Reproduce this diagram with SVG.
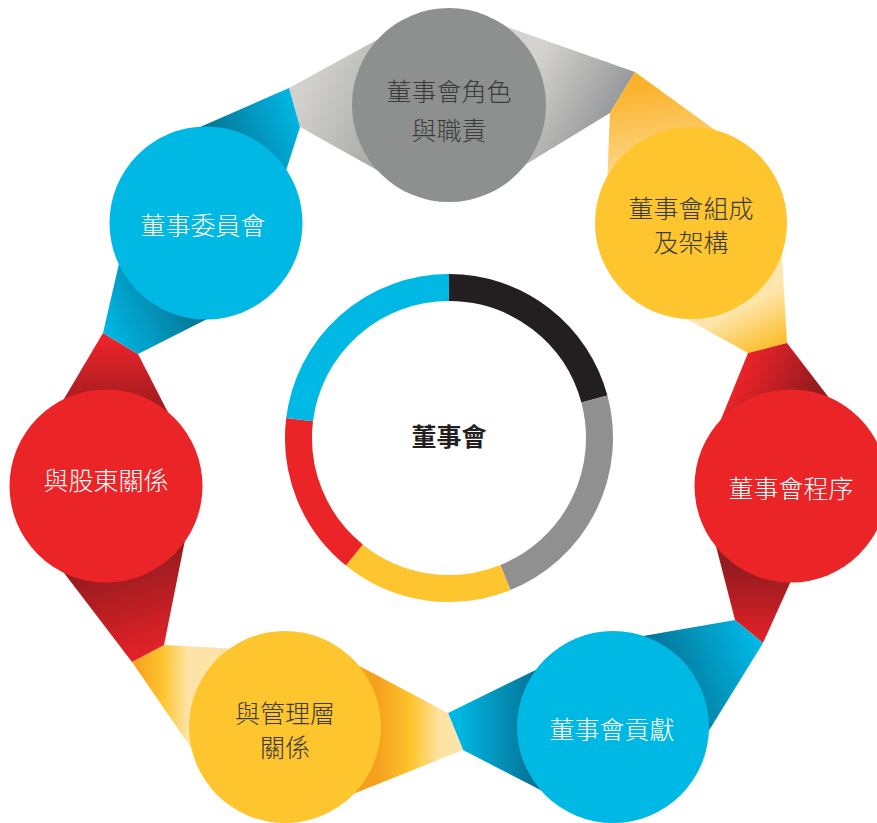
<svg xmlns="http://www.w3.org/2000/svg" width="877" height="823" viewBox="0 0 877 823">
<style>
.t{font-family:"Noto Sans CJK TC","Noto Sans CJK SC",sans-serif;font-size:25px;font-weight:300;text-anchor:middle}
.dk{fill:#3a3a3a}
.wt{fill:#ffffff}
.ring{fill:none;stroke-width:27}
</style>
<defs>
<linearGradient id="gL" gradientUnits="userSpaceOnUse" x1="295" y1="105" x2="390" y2="150"><stop offset="0" stop-color="#d2d1cd"/><stop offset="1" stop-color="#a6a7a6"/></linearGradient>
<linearGradient id="gR" gradientUnits="userSpaceOnUse" x1="620" y1="102" x2="540" y2="55"><stop offset="0" stop-color="#97989a"/><stop offset="1" stop-color="#d3d2ce"/></linearGradient>
<linearGradient id="y1T" gradientUnits="userSpaceOnUse" x1="625" y1="88" x2="640" y2="195"><stop offset="0" stop-color="#fbb22a"/><stop offset="1" stop-color="#fde2a3"/></linearGradient>
<linearGradient id="y1B" gradientUnits="userSpaceOnUse" x1="767" y1="350" x2="745" y2="305"><stop offset="0" stop-color="#fcbf2c"/><stop offset="1" stop-color="#fde5ab"/></linearGradient>
<linearGradient id="r1T" gradientUnits="userSpaceOnUse" x1="750" y1="365" x2="812" y2="395"><stop offset="0" stop-color="#e52329"/><stop offset="1" stop-color="#951b1e"/></linearGradient>
<linearGradient id="r1B" gradientUnits="userSpaceOnUse" x1="749" y1="635" x2="750" y2="565"><stop offset="0" stop-color="#dc2127"/><stop offset="1" stop-color="#921b1f"/></linearGradient>
<linearGradient id="c1R" gradientUnits="userSpaceOnUse" x1="750" y1="632" x2="645" y2="672"><stop offset="0" stop-color="#00b6e3"/><stop offset="1" stop-color="#056b8b"/></linearGradient>
<linearGradient id="c1L" gradientUnits="userSpaceOnUse" x1="458" y1="731" x2="545" y2="731"><stop offset="0" stop-color="#00b7e4"/><stop offset="1" stop-color="#05698a"/></linearGradient>
<linearGradient id="y2R" gradientUnits="userSpaceOnUse" x1="440" y1="731" x2="378" y2="731"><stop offset="0" stop-color="#fde3a6"/><stop offset="0.45" stop-color="#fdc52e"/><stop offset="1" stop-color="#f6a11d"/></linearGradient>
<linearGradient id="y2L" gradientUnits="userSpaceOnUse" x1="138" y1="700" x2="188" y2="700"><stop offset="0" stop-color="#f7a51f"/><stop offset="0.5" stop-color="#fdc52e"/><stop offset="1" stop-color="#fde3a6"/></linearGradient>
<linearGradient id="r2T" gradientUnits="userSpaceOnUse" x1="120" y1="343" x2="120" y2="410"><stop offset="0" stop-color="#e92329"/><stop offset="1" stop-color="#9c1c20"/></linearGradient>
<linearGradient id="r2B" gradientUnits="userSpaceOnUse" x1="148" y1="655" x2="120" y2="560"><stop offset="0" stop-color="#e42229"/><stop offset="1" stop-color="#951b1e"/></linearGradient>
<linearGradient id="c2B" gradientUnits="userSpaceOnUse" x1="110" y1="340" x2="200" y2="300"><stop offset="0" stop-color="#00b6e3"/><stop offset="1" stop-color="#05708f"/></linearGradient>
<linearGradient id="c2T" gradientUnits="userSpaceOnUse" x1="295" y1="105" x2="205" y2="140"><stop offset="0" stop-color="#00b6e3"/><stop offset="1" stop-color="#05708f"/></linearGradient>
</defs>

<g id="connectors">
<polygon fill="url(#gL)" points="289,88 395,30 393,179 300,127"/>
<polygon fill="url(#gR)" points="635,72 496,23 500,180 610,113"/>
<polygon fill="url(#y1T)" points="635,72 737,146 606,210 610,113"/>
<polygon fill="url(#y1B)" points="787,343 781,240 656,302 748,353"/>
<polygon fill="url(#r1T)" points="748,353 787,343 833,403 713,439"/>
<polygon fill="url(#r1B)" points="735,620 708,515 795,572 763,643"/>
<polygon fill="url(#c1R)" points="735,620 763,643 700,745 620,640"/>
<polygon fill="url(#c1L)" points="448,713 548,664 556,798 463,750"/>
<polygon fill="url(#y2R)" points="448,713 333,652 338,800 463,750"/>
<polygon fill="url(#y2L)" points="164,645 240,649 205,768 132,662"/>
<polygon fill="url(#r2B)" points="132,662 45,548 188,525 164,645"/>
<polygon fill="url(#r2T)" points="103,333 138,354 176,428 58,409"/>
<polygon fill="url(#c2B)" points="103,333 121,255 219,313 138,354"/>
<polygon fill="url(#c2T)" points="289,88 300,127 284,177 175,138"/>
</g>

<g id="node-center">
<path class="ring" stroke="#231f20" d="M449,287.5 A150.5,150.5 0 0 1 594.4,399.1"/>
<path class="ring" stroke="#8f908f" d="M594.4,399.1 A150.5,150.5 0 0 1 505.4,577.5"/>
<path class="ring" stroke="#fec52e" d="M505.4,577.5 A150.5,150.5 0 0 1 354.3,555"/>
<path class="ring" stroke="#ea2427" d="M354.3,555 A150.5,150.5 0 0 1 299.6,419.7"/>
<path class="ring" stroke="#00b8e4" d="M299.6,419.7 A150.5,150.5 0 0 1 449,287.5"/>
<text class="t" x="449" y="446" style="font-weight:bold;font-size:25px;fill:#231f20">董事會</text>
</g>

<g id="node-role">
<circle cx="449" cy="105" r="97" fill="#8e8f8f"/>
<text class="t dk" x="449" y="100.5">董事會角色</text>
<text class="t dk" x="449" y="139.5">與職責</text>
</g>

<g id="node-composition">
<circle cx="691" cy="223" r="96" fill="#fec52e"/>
<text class="t dk" x="691" y="218">董事會組成</text>
<text class="t dk" x="691" y="252">及架構</text>
</g>

<g id="node-procedure">
<circle cx="791" cy="486" r="96.5" fill="#ea2427"/>
<text class="t wt" x="791" y="497.5">董事會程序</text>
</g>

<g id="node-contribution">
<circle cx="613" cy="727" r="96" fill="#00b8e4"/>
<text class="t wt" x="612" y="738.5">董事會貢獻</text>
</g>

<g id="node-management">
<circle cx="285" cy="727" r="96" fill="#fec52e"/>
<text class="t dk" x="285" y="722.5">與管理層</text>
<text class="t dk" x="285" y="756.5">關係</text>
</g>

<g id="node-shareholders">
<circle cx="106" cy="486" r="96.5" fill="#ea2427"/>
<text class="t wt" x="106" y="490">與股東關係</text>
</g>

<g id="node-committees">
<circle cx="206" cy="223" r="96.5" fill="#00b8e4"/>
<text class="t wt" x="203" y="234.5">董事委員會</text>
</g>
</svg>
